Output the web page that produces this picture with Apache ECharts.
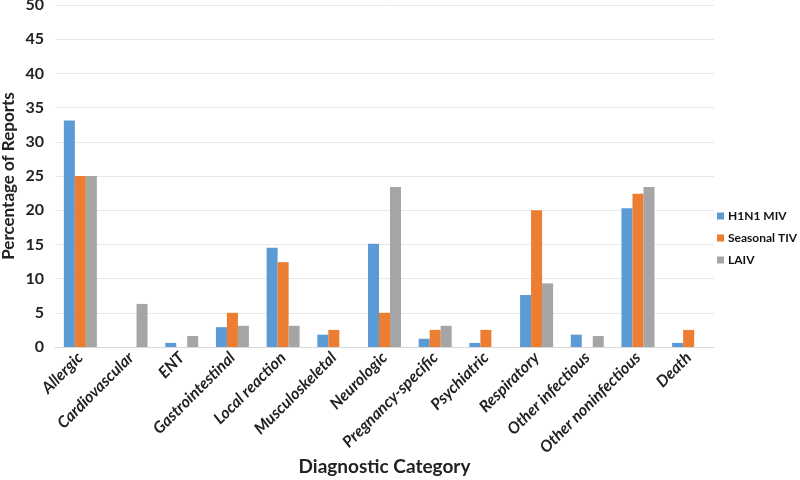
<!DOCTYPE html>
<html><head><meta charset="utf-8">
<script src="https://cdn.jsdelivr.net/npm/echarts@6/dist/echarts.min.js"></script>
<style>html,body{margin:0;padding:0;background:#fff}#c{width:800px;height:480px}</style>
</head><body><div id="c"></div>
<script>
const categories = ["Allergic","Cardiovascular","ENT","Gastrointestinal","Local reaction","Musculoskeletal","Neurologic","Pregnancy-specific","Psychiatric","Respiratory","Other infectious","Other noninfectious","Death"];
const h1n1 = [33.1, 0, 0.6, 2.9, 14.5, 1.8, 15.1, 1.2, 0.6, 7.6, 1.8, 20.3, 0.6];
const seasonal = [25, 0, 0, 5, 12.4, 2.5, 5, 2.5, 2.5, 20, 0, 22.4, 2.5];
const laiv = [25, 6.3, 1.6, 3.1, 3.1, 0, 23.4, 3.1, 0, 9.3, 1.6, 23.4, 0];
const seriesNames = ["H1N1 MIV","Seasonal TIV","LAIV"];
const colors = ["#5B9BD5","#ED7D31","#A5A5A5"];
const font = "Lato";
const chart = echarts.init(document.getElementById('c'));
const mk = (name, data, i) => ({name, type:'bar', data, barWidth:11, barGap:'0%', itemStyle:{color:colors[i]}});
chart.setOption({
  animation:false,
  textStyle:{fontFamily:font},
  grid:{left:55, right:86, top:5, bottom:133, containLabel:false, outerBoundsMode:'none'},
  legend:{orient:'vertical', left:712, top:205, itemWidth:7, itemHeight:7, itemGap:10, icon:'rect', padding:[5,0,5,5],
    textStyle:{fontFamily:font, fontWeight:'bold', fontSize:12, color:'#111', padding:[0,0,0,-1]}},
  xAxis:{type:'category', data:categories,
    axisLine:{lineStyle:{color:'#d9d9d9'}}, axisTick:{show:false},
    axisLabel:{rotate:45, interval:0, fontFamily:font, fontWeight:'bold', fontStyle:'italic', fontSize:16, color:'#222', margin:8},
    name:'Diagnostic Category', nameLocation:'middle', nameGap:110, nameMoveOverlap:false,
    nameTextStyle:{fontFamily:font, fontWeight:'bold', fontSize:19, color:'#222'}},
  yAxis:{type:'value', min:0, max:50, interval:5,
    axisLine:{show:false}, axisTick:{show:false},
    splitLine:{lineStyle:{color:'#e8e8e8'}},
    axisLabel:{fontFamily:font, fontWeight:'bold', fontSize:16, color:'#222', margin:11},
    name:'Percentage of Reports', nameLocation:'middle', nameGap:38, nameMoveOverlap:false,
    nameTextStyle:{fontFamily:font, fontWeight:'bold', fontSize:17, color:'#222'}},
  series:[mk(seriesNames[0],h1n1,0), mk(seriesNames[1],seasonal,1), mk(seriesNames[2],laiv,2)]
});
</script></body></html>
